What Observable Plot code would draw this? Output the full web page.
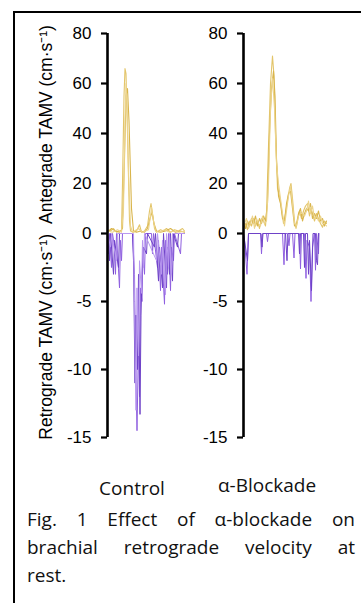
<!DOCTYPE html>
<html>
<head>
<meta charset="utf-8">
<script src="https://cdn.jsdelivr.net/npm/d3@7"></script>
<script src="https://cdn.jsdelivr.net/npm/@observablehq/plot@0.6"></script>
<style>
  html, body { margin: 0; padding: 0; background: #fff; }
  body { width: 361px; height: 603px; position: relative; overflow: hidden; }
  #frame { position: absolute; left: 13px; top: 11px; width: 420px; height: 660px; border: 2.5px solid #000; box-sizing: border-box; }
  .panel { position: absolute; top: 0; }
  .group { position: absolute; font-family: "Open Sans", sans-serif; font-size: 19px; color: #111; white-space: nowrap; line-height: 20px; transform: translateX(-50%); }
  #caption { position: absolute; left: 27px; top: 505px; width: 328px; font-family: "Open Sans", sans-serif; font-size: 19px; line-height: 28px; color: #111; }
  #caption div { white-space: nowrap; }
  #caption .j { text-align: justify; text-align-last: justify; }
</style>
</head>
<body>
<div id="frame"></div>
<div id="control" class="panel" style="left:0px"></div>
<div id="blockade" class="panel" style="left:185px"></div>
<div class="group" style="left:132px; top:478px">Control</div>
<div class="group" style="left:267px; top:475px">α-Blockade</div>
<div id="caption">
  <div class="j">Fig. 1 Effect of α-blockade on</div>
  <div class="j">brachial retrograde velocity at</div>
  <div>rest.</div>
</div>
<script>
// ---- axis ticks and labels ----
const yTicks = [-15, -10, -5, 0, 20, 40, 60, 80];
const yExtent = [-15, 80];
const groups = ["Control", "α-Blockade"];
const anteLabel = "Antegrade TAMV (cm·s⁻¹)";
const retroLabel = "Retrograde TAMV (cm·s⁻¹)";

// ---- Control: antegrade TAMV traces [time sample, cm/s] ----
const controlAnteA = [[0,1.5],[3,1],[6,2],[9,0.5],[12,1],[14,1],[15,20],[16.5,55],[17.5,66],[18.5,64],[20,40],[22,5],[23,1],[26,0.5],[29,1],[32,3.5],[34,0.5],[37,1],[40,3],[42,9],[43.5,12],[45,8],[47,2],[49,0.5],[53,1.5],[56,1],[59,2],[63,0.5],[67,1.5],[71,1],[75,2],[77,1]];
const controlAnteB = [[0,0.5],[4,2],[8,1],[12,0.5],[15,2],[17,30],[18.5,55],[20,58],[21.5,45],[24,10],[26,1],[29,0.5],[33,1],[37,0.5],[40,2],[42.5,6],[44.5,8.5],[46.5,4],[49,1],[53,0.5],[58,1],[63,2],[68,0.5],[73,1],[77,0.5]];
const controlAnteC = [[0,1],[5,0.5],[10,1.5],[14,0.5],[16,10],[17.5,45],[18.5,60],[19.5,52],[21,25],[23,3],[25,0.5],[31,2],[35,0.5],[41,1.5],[43,7],[44,10.5],[46,5],[48,1],[52,0.5],[57,1.5],[62,0.5],[66,1],[72,0.5],[77,1]];

// ---- Control: retrograde TAMV traces ----
const controlRetroA = [[0,0],[1,-1.5],[2,0],[4,-2.5],[5,0],[7,-1],[8,-3],[9,0],[12,-4],[13,-0.5],[14,-2],[15,0],[25,0],[27,-3],[28,-9],[29.5,-14.5],[31,-8],[32,-12],[33,-4],[34.5,-5],[35.5,-1],[37,-3],[38,0],[44,0],[45,-1.5],[46,0],[50,-2.5],[51,-0.5],[53,-4.2],[54,-1],[57,-5.2],[58,-0.5],[60,-3],[61,0],[63,-4.2],[64,-1],[66,-2],[67,0],[73,-1.5],[74,0],[77,0]];
const controlRetroB = [[0,0],[2,-2],[3,0],[6,-3],[7,-0.5],[11,-2.5],[12,0],[25,0],[26,-2],[27.5,-11],[28.5,-6],[30,-10],[31,-3],[32.5,-13.3],[33.5,-6],[34.5,-3],[36,-1],[39,-1.5],[40,0],[47,-1],[48,0],[51,-3.5],[52,-1],[55,-4],[56,0],[59,-4],[60,-1],[62,-3],[63,0],[65,-3.5],[66,0],[70,-1],[71,0],[77,0]];
const controlRetroC = [[0,0],[3,-1],[4,0],[9,-2],[10,0],[26,0],[27,-5],[28.5,-13],[29.5,-4],[31,-9],[32,-2],[34,-4.4],[35,-0.5],[36,-2.5],[37,0],[49,-2],[50,0],[54,-3],[55,-0.5],[58,-4.5],[59,0],[61,-2.5],[62,0],[64,-3],[65,0],[77,0]];

// ---- α-Blockade: antegrade TAMV traces ----
const blockAnteA = [[0,2],[2,4],[4,1.5],[6,5],[8,3],[10,6],[12,3],[14,5],[16,2],[18,6],[20,5],[22,3],[23,8],[25,35],[27,60],[29,71],[30.5,63],[32,40],[34,18],[36,15],[38,10],[40,4],[42,8],[44,13],[46,18],[47.5,20],[49,14],[51,5],[52.5,2],[54,5],[56,9],[58,6],[60,9],[62,11],[64,12],[66,7],[67.5,10],[69,8],[71,5],[73,8],[75,6],[77,4],[79,2.5],[81,5],[83,4]];
const blockAnteB = [[0,4],[2,2],[4,5],[6,3],[8,6],[10,4],[12,7],[14,3],[16,6],[18,4],[20,7],[22,5],[24,12],[26,40],[28,58],[30,65],[31.5,55],[33,30],[35,15],[37,12],[39,6],[41,5],[43,12],[45,16],[47,17],[49,10],[51,3],[53,4],[55,8],[57,10],[59,5],[61,8],[63,10],[65,9],[67,12],[69,6],[71,8],[73,6],[75,9],[77,5],[79,6],[81,3],[83,5]];
const blockAnteC = [[0,3],[3,6],[5,2],[7,4],[9,7],[11,2],[13,6],[15,4],[17,3],[19,7],[21,4],[23,5],[25,20],[27,50],[29,62],[31,50],[33,28],[35,20],[37,14],[39,8],[41,3],[43,9],[45,15],[47,19],[49,12],[51,4],[53,3],[55,7],[57,8],[59,8],[61,7],[63,9],[65,13],[67,8],[69,11],[71,6],[73,7],[75,5],[77,7],[79,4],[81,4],[83,3]];

// ---- α-Blockade: retrograde TAMV traces ----
const blockRetroA = [[0,0],[1,-0.5],[3.5,-3],[5,0],[17,0],[18,-1.5],[19,0],[23,0],[24,-0.6],[25,0],[39,0],[40.5,-2.3],[41.5,0],[44,0],[45.5,-0.9],[46.5,0],[49,0],[50.5,-1.8],[51.5,0],[56,0],[57,-2.6],[58,0],[61,0],[62.5,-3.3],[63.5,-0.5],[66,-1],[67.5,-5],[69,-1],[71,0],[72,-2.7],[73,0],[75,-1.5],[75.5,0]];
const blockRetroB = [[0,0],[4,-2],[5,0],[17.5,0],[18.5,-1],[19.5,0],[42,0],[43.5,-2],[44.5,0],[55,0],[56,-1.5],[57,0],[60,0],[61,-2.5],[62,0],[64,0],[65,-3],[66,-0.5],[68,-4.2],[69.5,0],[72,0],[73,-2],[74,-2.3],[75,0]];

const gold = ["#e3c56a", "#d9b54c", "#ecd48c"];
const purple = ["#8f5fe0", "#6e42c8", "#b998f0"];
// retrograde part of the axis is stretched relative to the antegrade part
const retroStretch = 5.44;
const yTransform = v => (v < 0 ? v * retroStretch : v);

function panel({ante, retro, xMax, left, axisX, endX, withLabels}) {
  const marks = [];
  ante.forEach((tr, i) => marks.push(Plot.line(tr, {x: d => d[0], y: d => d[1], stroke: gold[i % 3], strokeWidth: 1.1})));
  retro.forEach((tr, i) => marks.push(Plot.line(tr, {x: d => d[0], y: d => d[1], stroke: purple[i % 3], strokeWidth: 1})));
  marks.push(Plot.ruleX([0], {y1: () => yExtent[0], y2: () => yExtent[1], stroke: "#000", strokeWidth: 2.6}));
  marks.push(Plot.axisY(yTicks, {anchor: "left", tickSize: 6, tickPadding: 10, fontSize: 17, strokeWidth: 2.2, stroke: "#000", fill: "#000", tickFormat: d => String(d), label: null}));
  if (withLabels) {
    const xl = (46 - axisX) * xMax / (endX - axisX);
    marks.push(Plot.text([anteLabel], {x: () => xl, y: () => 43.6, rotate: -90, fontSize: 17.5, fill: "#000", text: d => d}));
    marks.push(Plot.text([retroLabel], {x: () => xl, y: () => -7.6, rotate: -90, fontSize: 17.5, fill: "#000", text: d => d}));
  }
  return Plot.plot({
    width: left === 0 ? 185 : 176,
    height: 450,
    marginLeft: axisX - left, marginRight: 0, marginTop: 0, marginBottom: 0,
    style: {background: "transparent", fontFamily: "'Liberation Sans', Arial, sans-serif", color: "#000"},
    x: {domain: [0, xMax], range: [axisX - left, endX - left], axis: null},
    y: {transform: yTransform, domain: yExtent.map(yTransform), range: [437, 33], axis: null},
    marks
  });
}

document.getElementById("control").append(panel({
  ante: [controlAnteA, controlAnteB, controlAnteC],
  retro: [controlRetroA, controlRetroB, controlRetroC],
  xMax: 77, left: 0, axisX: 107, endX: 184, withLabels: true
}));
document.getElementById("blockade").append(panel({
  ante: [blockAnteA, blockAnteB, blockAnteC],
  retro: [blockRetroA, blockRetroB],
  xMax: 83, left: 185, axisX: 243, endX: 326, withLabels: false
}));
</script>
</body>
</html>
